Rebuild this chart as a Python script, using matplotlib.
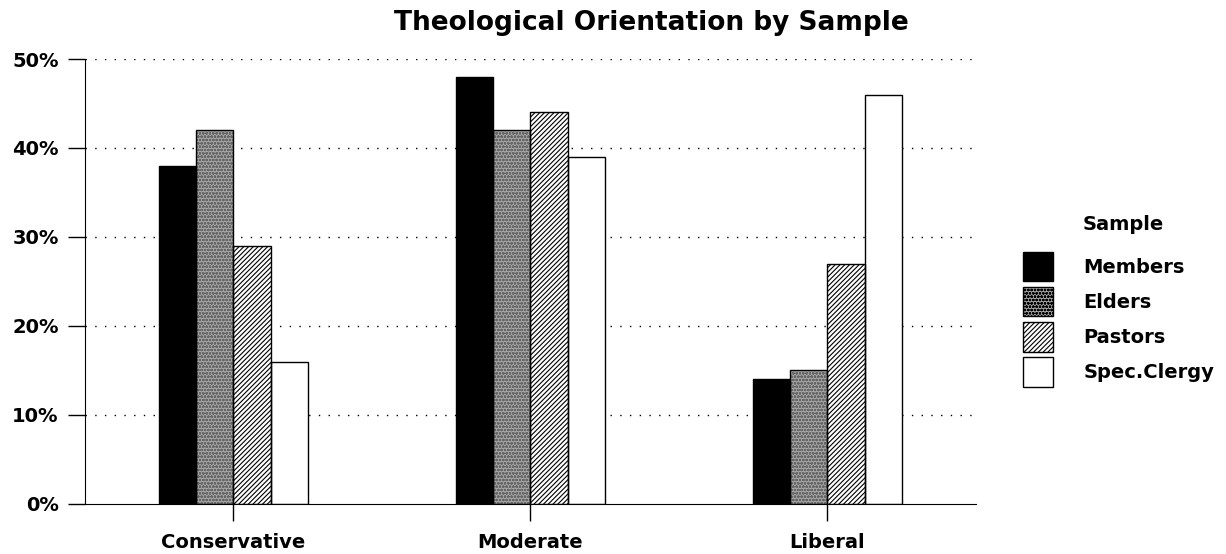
import numpy as np
import matplotlib
matplotlib.use("Agg")
import matplotlib.pyplot as plt
from matplotlib.ticker import PercentFormatter

categories = ["Conservative", "Moderate", "Liberal"]
samples = ["Members", "Elders", "Pastors", "Spec.Clergy"]
members = [38, 48, 14]
elders = [42, 42, 15]
pastors = [29, 44, 27]
spec_clergy = [16, 39, 46]
yticks = [0, 10, 20, 30, 40, 50]

plt.rcParams['font.family'] = ['DejaVu Sans']
plt.rcParams['font.weight'] = 'bold'
plt.rcParams['hatch.linewidth'] = 0.8

fig = plt.figure(figsize=(12.26, 5.54), dpi=100)
ax = fig.add_axes([0.0693, 0.0903, 0.7267, 0.8032])

x = np.arange(len(categories))
w = 0.126
offs = (np.arange(4) - 1.5) * w

# stile per serie: (facecolor, hatch, colore hatch)
styles = [
    ("black", None, "black"),
    ("#a8a8a8", "ooooo", "#666666"),
    ("white", "///////", "black"),
    ("white", None, "black"),
]
series = [members, elders, pastors, spec_clergy]

handles = []
for i, (vals, (fc, hatch, hc)) in enumerate(zip(series, styles)):
    ax.bar(x + offs[i], vals, w, color=fc, hatch=hatch, edgecolor=hc,
           linewidth=0, zorder=2)
    ax.bar(x + offs[i], vals, w, fill=False, edgecolor="black",
           linewidth=1.0, zorder=3)
    handles.append(plt.Rectangle((0, 0), 1, 1, facecolor=fc, hatch=hatch,
                                 edgecolor=hc, linewidth=0))

ax.set_xlim(-0.5, 2.5)
ax.set_ylim(0, 50)
ax.set_yticks(yticks)
ax.yaxis.set_major_formatter(PercentFormatter(decimals=0))
ax.set_xticks(x)
ax.set_xticklabels(categories)
ax.tick_params(axis='both', direction='out', length=12, width=1.0,
               labelsize=14)
ax.tick_params(axis='y', pad=7)
ax.tick_params(axis='x', pad=9)

for y in yticks[1:]:
    ax.axhline(y, color="black", linestyle=(0, (1, 6)), linewidth=1.0, zorder=1)

for s in ["top", "right"]:
    ax.spines[s].set_visible(False)

fig.text(0.531, 0.958, "Theological Orientation by Sample", ha='center',
         va='center', fontsize=19, fontweight='bold')

leg = fig.legend(handles, samples, loc="upper left",
                 bbox_to_anchor=(0.8344, 0.5451), frameon=False,
                 fontsize=14, handlelength=1.55, handleheight=1.94,
                 labelspacing=0.3, handletextpad=1.55,
                 borderpad=0, borderaxespad=0)
for p in leg.get_patches():
    p.set_edgecolor("black")
    p.set_linewidth(1.0)
fig.text(0.8834, 0.5939, "Sample", ha='left', va='center',
         fontsize=14, fontweight='bold')

fig.savefig("out.png", dpi=100)
